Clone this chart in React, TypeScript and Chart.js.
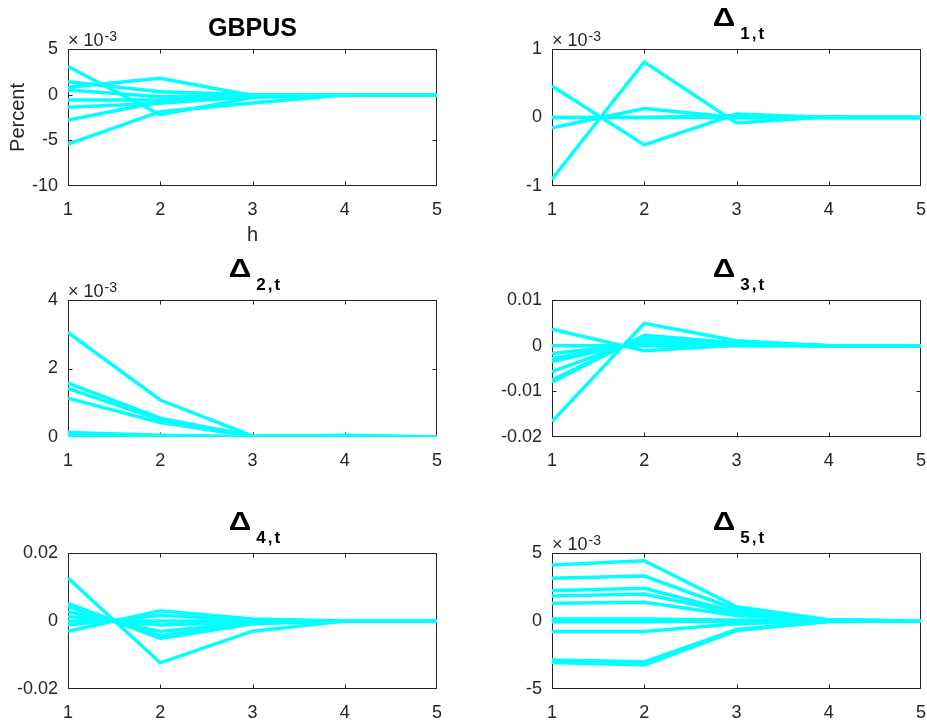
import React, { useEffect, useRef } from "react";
import { Chart, registerables } from "chart.js";

Chart.register(...registerables);

const FONT = '"Liberation Sans", Arial, Helvetica, sans-serif';
const AXIS_COLOR = "#262626";
const LINE_COLOR = "#00FFFF";

// horizons (x-axis categories)
const horizons = [1, 2, 3, 4, 5];

// ---- series values ----
const gbpusSeries = [
  [0.00307, -0.0022, -0.0003, 0, 0],
  [0.00142, 0.00033, 0, 0, 0],
  [0.0008, 0.00179, -0.0001, 0, 0],
  [0.00051, -0.00022, -0.00005, 0, 0],
  [-0.00058, -0.00058, -0.0001, 0, 0],
  [-0.00139, -0.00095, -0.0002, 0, 0],
  [-0.00277, -0.0008, -0.0002, 0, 0],
  [-0.0054, -0.00186, -0.0009, -0.00005, 0],
];

const delta1Series = [
  [0.00046, -0.0004, 0.00005, 0, 0],
  [-0.0009, 0.00081, -0.00008, 0.00001, 0],
  [-0.00015, 0.00013, 0, 0, 0],
  [0, 0, 0, 0, 0],
  [0, 0, 0.00003, 0, 0],
];

const delta2Series = [
  [0.00305, 0.00108, 0.00003, 0.00002, 0],
  [0.00157, 0.00055, 0.00003, 0.00002, 0],
  [0.00142, 0.0005, 0.00002, 0.00001, 0],
  [0.00113, 0.00042, 0.00002, 0.00001, 0],
  [0.00013, 0.00005, 0.00001, 0.00005, 0],
  [0.00008, 0.00003, 0, 0.00003, 0],
  [0.00002, 0.00001, 0, 0, 0],
];

const delta3Series = [
  [0.0036, -0.0011, 0.0001, 0, 0],
  [0, 0, 0, 0, 0],
  [-0.0017, 0.0005, 0.0002, 0, 0],
  [-0.0028, 0.0008, 0.0003, 0, 0],
  [-0.0035, 0.001, 0.0003, 0, 0],
  [-0.0057, 0.0016, 0.0005, 0, 0],
  [-0.0075, 0.0021, 0.0006, 0, 0],
  [-0.008, 0.0023, 0.0006, 0, 0],
  [-0.0166, 0.0049, 0.0011, 0, 0],
];

const delta4Series = [
  [0.0126, -0.0123, -0.003, 0, 0],
  [0.0052, -0.0051, -0.0008, 0, 0],
  [0.0042, -0.0043, -0.0006, 0, 0],
  [0.0027, -0.0031, -0.0004, 0, 0],
  [0.0013, -0.0012, -0.0002, 0, 0],
  [0, 0, 0, 0, 0],
  [-0.0012, 0.0017, 0.0003, 0, 0],
  [-0.003, 0.003, 0.0006, 0, 0],
];

const delta5Series = [
  [0.00412, 0.00443, 0.00105, 0.0001, 0],
  [0.00314, 0.00331, 0.00085, 0.00008, 0],
  [0.00223, 0.0024, 0.00065, 0.00006, 0],
  [0.00184, 0.00199, 0.00055, 0.00005, 0],
  [0.0013, 0.00137, 0.0004, 0.00004, 0],
  [0.00015, 0.00015, 0.00005, 0, 0],
  [0.00005, 0.00005, 0.00002, 0, 0],
  [-0.00005, -0.00005, 0, 0, 0],
  [-0.00078, -0.00078, -0.0002, 0, 0],
  [-0.00287, -0.003, -0.00062, -0.00003, 0],
  [-0.00306, -0.00324, -0.0007, -0.00004, 0],
];

// ---- y tick settings ----
const gbpusTicks = { min: -0.01, max: 0.005, step: 0.005, exp: -3 };
const delta1Ticks = { min: -0.001, max: 0.001, step: 0.001, exp: -3 };
const delta2Ticks = { min: 0, max: 0.004, step: 0.002, exp: -3 };
const delta3Ticks = { min: -0.02, max: 0.01, step: 0.01, exp: 0 };
const delta4Ticks = { min: -0.02, max: 0.02, step: 0.02, exp: 0 };
const delta5Ticks = { min: -0.005, max: 0.005, step: 0.005, exp: -3 };

type Box = { x: number; y: number; w: number; h: number; axisW: number; padTop: number; padRight: number; xAxisH: number; padBottom: number };

type PanelSpec = {
  key: string;
  title: string;
  sub?: string;
  series: number[][];
  ticks: { min: number; max: number; step: number; exp: number };
  box: Box;
  yLabel?: string;
  xLabel?: string;
};

const leftCol = { x: 0, w: 460, axisW: 68, padRight: 23 };
const rightCol = { x: 460, w: 487, axisW: 92, padRight: 26 };
const row1 = { y: 0, h: 250, padTop: 49, xAxisH: 40, padBottom: 24 };
const row2 = { y: 250, h: 220, padTop: 50, xAxisH: 33, padBottom: 0 };
const row3 = { y: 470, h: 252, padTop: 83, xAxisH: 33, padBottom: 0 };

const panels: PanelSpec[] = [
  { key: "gbpus", title: "GBPUS", series: gbpusSeries, ticks: gbpusTicks, box: { ...leftCol, ...row1 }, yLabel: "Percent", xLabel: "h" },
  { key: "d1", title: "\u0394", sub: "1,t", series: delta1Series, ticks: delta1Ticks, box: { ...rightCol, ...row1 } },
  { key: "d2", title: "\u0394", sub: "2,t", series: delta2Series, ticks: delta2Ticks, box: { ...leftCol, ...row2 } },
  { key: "d3", title: "\u0394", sub: "3,t", series: delta3Series, ticks: delta3Ticks, box: { ...rightCol, ...row2 } },
  { key: "d4", title: "\u0394", sub: "4,t", series: delta4Series, ticks: delta4Ticks, box: { ...leftCol, ...row3 } },
  { key: "d5", title: "\u0394", sub: "5,t", series: delta5Series, ticks: delta5Ticks, box: { ...rightCol, ...row3 } },
];

function makeFramePlugin(p: PanelSpec) {
  return {
    id: "frame_" + p.key,
    beforeDatasetsDraw(chart: any) {
      const { ctx, chartArea: a, scales } = chart;
      const xs = scales.x;
      const ys = scales.y;
      const L = Math.round(a.left) + 0.5;
      const R = Math.round(a.right) - 0.5;
      const T = Math.round(a.top) + 0.5;
      const B = Math.round(a.bottom) - 0.5;
      const tl = 4;
      ctx.save();
      ctx.strokeStyle = AXIS_COLOR;
      ctx.lineWidth = 1;
      ctx.strokeRect(L, T, R - L, B - T);
      ctx.beginPath();
      for (const t of xs.ticks) {
        let px = Math.round(xs.getPixelForValue(t.value)) + 0.5;
        if (px > R) px = R;
        ctx.moveTo(px, B);
        ctx.lineTo(px, B - tl);
        ctx.moveTo(px, T);
        ctx.lineTo(px, T + tl);
      }
      for (const t of ys.ticks) {
        let py = Math.round(ys.getPixelForValue(t.value)) + 0.5;
        if (py > B) py = B;
        ctx.moveTo(L, py);
        ctx.lineTo(L + tl, py);
        ctx.moveTo(R, py);
        ctx.lineTo(R - tl, py);
      }
      ctx.stroke();
      ctx.restore();
    },
    afterDraw(chart: any) {
      const { ctx, chartArea: a } = chart;
      const cx = (a.left + a.right) / 2;
      ctx.save();
      ctx.fillStyle = "#000";
      ctx.textBaseline = "alphabetic";
      if (!p.sub) {
        ctx.font = "bold 25px " + FONT;
        ctx.textAlign = "center";
        ctx.fillText(p.title, cx, a.top - 13);
      } else {
        const f1 = "bold 25px " + FONT;
        const f2 = "bold 17px " + FONT;
        const gap = 2;
        const sx = 1.25;
        ctx.font = f1;
        const w1 = ctx.measureText(p.title).width * sx;
        ctx.font = f2;
        const chars = p.sub.split("");
        const cw = chars.map((c) => ctx.measureText(c).width);
        const w2 = cw.reduce((s, v) => s + v, 0) + gap * (chars.length - 1);
        const x0 = cx + 2 - (w1 + 5 + w2) / 2;
        ctx.textAlign = "left";
        ctx.font = f1;
        ctx.save();
        ctx.translate(x0, a.top - 23);
        ctx.scale(sx, 1);
        ctx.fillText(p.title, 0, 0);
        ctx.restore();
        ctx.font = f2;
        let xx = x0 + w1 + 5;
        chars.forEach((c, i) => {
          ctx.fillText(c, xx, a.top - 10);
          xx += cw[i] + gap;
        });
      }
      if (p.ticks.exp !== 0) {
        ctx.fillStyle = AXIS_COLOR;
        ctx.textAlign = "left";
        ctx.font = "18px " + FONT;
        ctx.fillText("\u00D7", a.left, a.top - 3);
        const wx = ctx.measureText("\u00D7").width;
        ctx.fillText("10", a.left + wx + 5, a.top - 3);
        const w10 = ctx.measureText("10").width;
        ctx.font = "14px " + FONT;
        ctx.fillText(String(p.ticks.exp), a.left + wx + 5 + w10 + 1, a.top - 8);
      }
      if (p.yLabel) {
        ctx.save();
        ctx.fillStyle = AXIS_COLOR;
        ctx.font = "20px " + FONT;
        ctx.textAlign = "center";
        ctx.translate(24, (a.top + a.bottom) / 2);
        ctx.rotate(-Math.PI / 2);
        ctx.fillText(p.yLabel, 0, 0);
        ctx.restore();
      }
      if (p.xLabel) {
        ctx.fillStyle = AXIS_COLOR;
        ctx.font = "20px " + FONT;
        ctx.textAlign = "center";
        ctx.fillText(p.xLabel, cx, a.bottom + 55);
      }
      ctx.restore();
    },
  };
}

function Panel({ p }: { p: PanelSpec }) {
  const ref = useRef<HTMLCanvasElement>(null);
  useEffect(() => {
    const canvas = ref.current;
    if (!canvas) return;
    const factor = Math.pow(10, p.ticks.exp);
    const tickFont = { family: FONT, size: 18 };
    const chart = new Chart(canvas, {
      type: "line",
      data: {
        datasets: p.series.map((vals, si) => ({
          label: p.key + "_" + si,
          data: vals.map((v, i) => ({ x: horizons[i], y: v })),
          borderColor: LINE_COLOR,
          borderWidth: 3.5,
          pointRadius: 0,
          fill: false,
          tension: 0,
        })),
      },
      options: {
        animation: false,
        responsive: false,
        events: [],
        layout: {
          padding: { left: 0, top: p.box.padTop, right: p.box.padRight, bottom: p.box.padBottom },
        },
        plugins: { legend: { display: false }, tooltip: { enabled: false }, title: { display: false } },
        scales: {
          x: {
            type: "linear",
            min: horizons[0],
            max: horizons[horizons.length - 1],
            grid: { display: false, drawTicks: false },
            border: { display: false },
            ticks: { stepSize: 1, padding: 13, font: tickFont, color: AXIS_COLOR, maxRotation: 0, autoSkip: false },
            afterFit: (s: any) => {
              s.height = p.box.xAxisH;
            },
          },
          y: {
            type: "linear",
            min: p.ticks.min,
            max: p.ticks.max,
            grid: { display: false, drawTicks: false },
            border: { display: false },
            ticks: {
              stepSize: p.ticks.step,
              padding: 10,
              font: tickFont,
              color: AXIS_COLOR,
              autoSkip: false,
              callback: (v: any) => {
                const n = Math.round((Number(v) / factor) * 1e6) / 1e6;
                return String(n === 0 ? 0 : n);
              },
            },
            afterFit: (s: any) => {
              s.width = p.box.axisW;
            },
          },
        },
      } as any,
      plugins: [makeFramePlugin(p)],
    });
    return () => chart.destroy();
  }, [p]);
  const b = p.box;
  return (
    <canvas
      ref={ref}
      width={b.w}
      height={b.h}
      style={{ position: "absolute", left: b.x, top: b.y, width: b.w, height: b.h, display: "block" }}
    />
  );
}

export default function App() {
  return (
    <div style={{ position: "absolute", left: 0, top: 0, width: 927, height: 722, background: "#fff", overflow: "hidden" }}>
      {panels.map((p) => (
        <Panel key={p.key} p={p} />
      ))}
    </div>
  );
}
